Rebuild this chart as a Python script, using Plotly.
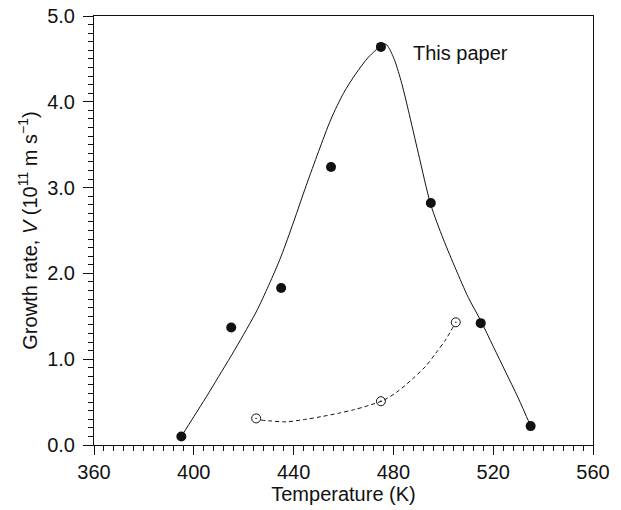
import plotly.graph_objects as go

# Filled points: "This paper"
paper_T = [395, 415, 435, 455, 475, 495, 515, 535]
paper_V = [0.10, 1.37, 1.83, 3.24, 4.64, 2.82, 1.42, 0.22]

# Solid fitted curve
fit_T = [395, 400, 405, 410, 415, 420, 425, 430, 435, 440, 445, 450, 455, 460, 465, 470, 475, 477,
         480, 483, 486, 490, 495, 500, 505, 510, 515, 520, 525, 530, 535]
fit_V = [0.10, 0.33, 0.56, 0.80, 1.04, 1.29, 1.55, 1.86, 2.20, 2.60, 3.02, 3.42, 3.80, 4.10, 4.33,
         4.52, 4.65, 4.67, 4.52, 4.25, 3.90, 3.40, 2.80, 2.40, 2.05, 1.72, 1.45, 1.15, 0.85, 0.55, 0.22]

# Open points (other data)
other_T = [425, 475, 505]
other_V = [0.31, 0.51, 1.43]

# Dashed curve
dash_T = [427, 431, 437, 445, 451, 458, 464, 470, 476, 482, 488, 493, 497, 501, 504]
dash_V = [0.29, 0.28, 0.27, 0.30, 0.33, 0.37, 0.41, 0.46, 0.52, 0.63, 0.78, 0.92, 1.07, 1.23, 1.38]

x_ticks = [360, 400, 440, 480, 520, 560]
y_ticks = [0.0, 1.0, 2.0, 3.0, 4.0, 5.0]

FONT = "Liberation Sans, Arial, Helvetica, sans-serif"
INK = "#111111"
FS = 20

fig = go.Figure()
fig.add_trace(go.Scatter(x=fit_T, y=fit_V, mode="lines",
                         line=dict(color=INK, width=1, shape="spline", smoothing=0.8),
                         hoverinfo="skip", showlegend=False))
fig.add_trace(go.Scatter(x=dash_T, y=dash_V, mode="lines",
                         line=dict(color=INK, width=1, dash="4px,3px", shape="spline", smoothing=0.8),
                         hoverinfo="skip", showlegend=False))
fig.add_trace(go.Scatter(x=paper_T, y=paper_V, mode="markers",
                         marker=dict(symbol="circle", size=10, color=INK),
                         name="This paper", showlegend=False))
fig.add_trace(go.Scatter(x=other_T, y=other_V, mode="markers",
                         marker=dict(symbol="circle-open-dot", size=9, color=INK, line=dict(width=1, color=INK)),
                         showlegend=False))

fig.add_annotation(x=487, y=4.57, xref="x", yref="y", text="This paper", showarrow=False,
                   xanchor="left", yanchor="middle", font=dict(size=FS, color=INK, family=FONT))

fig.update_layout(
    width=621, height=510,
    margin=dict(l=94, r=28, t=16, b=65, autoexpand=False),
    paper_bgcolor="white", plot_bgcolor="white",
    font=dict(family=FONT, size=FS, color=INK),
    showlegend=False,
)
fig.update_xaxes(
    range=[360, 560], tickvals=x_ticks, ticktext=[str(v) for v in x_ticks],
    ticks="outside", ticklen=9, tickwidth=1, tickcolor=INK, ticklabelstandoff=0,
    minor=dict(dtick=4, tick0=360, ticks="outside", ticklen=5, tickwidth=1, tickcolor=INK, showgrid=False),
    showline=True, linecolor=INK, linewidth=1, mirror=True, showgrid=False, zeroline=False,
    automargin=False,
    title=dict(text="Temperature (K)", font=dict(size=FS), standoff=4),
    tickfont=dict(size=FS),
)
fig.update_yaxes(
    range=[0, 5], tickvals=y_ticks, ticktext=[f"{v:.1f}" for v in y_ticks],
    ticks="outside", ticklen=10, tickwidth=1, tickcolor=INK, ticklabelstandoff=4,
    minor=dict(dtick=0.1, tick0=0, ticks="outside", ticklen=5, tickwidth=1, tickcolor=INK, showgrid=False),
    showline=True, linecolor=INK, linewidth=1, mirror=True, showgrid=False, zeroline=False,
    automargin=False,
    title=dict(text="Growth rate, <i>V</i> (10<sup>11</sup> m s<sup>\u22121</sup>)", font=dict(size=FS), standoff=4),
    tickfont=dict(size=FS),
)

fig.write_html("out.html", config={"displayModeBar": False},
               post_script="document.body.style.margin='0';")
